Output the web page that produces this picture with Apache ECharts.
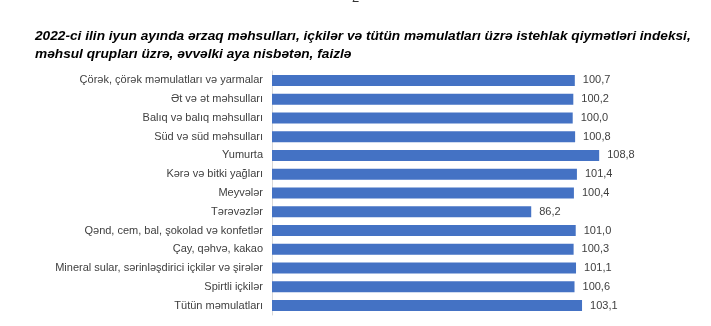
<!DOCTYPE html>
<html><head><meta charset="utf-8">
<script src="https://cdn.jsdelivr.net/npm/echarts@6/dist/echarts.min.js"></script>
<style>html,body{margin:0;padding:0;background:#fff}#c{width:711px;height:326px}</style>
</head><body><div id="c"></div>
<script>
const categories = ["Çörək, çörək məmulatları və yarmalar","Ət və ət məhsulları","Balıq və balıq məhsulları","Süd və süd məhsulları","Yumurta","Kərə və bitki yağları","Meyvələr","Tərəvəzlər","Qənd, cem, bal, şokolad və konfetlər","Çay, qəhvə, kakao","Mineral sular, sərinləşdirici içkilər və şirələr","Spirtli içkilər","Tütün məmulatları"];
const values = [100.7,100.2,100.0,100.8,108.8,101.4,100.4,86.2,101.0,100.3,101.1,100.6,103.1];
const titleLines = ["2022-ci ilin iyun ayında ərzaq məhsulları, içkilər və tütün məmulatları üzrə istehlak qiymətləri indeksi,","məhsul qrupları üzrə, əvvəlki aya nisbətən, faizlə"];
const chart = echarts.init(document.getElementById('c'));
chart.setOption({
  animation:false,
  graphic:[
    {type:'text',left:352,top:-8,style:{text:'2',font:'13px "Liberation Sans"',fill:'#333'}},
    {type:'text',left:35,top:27,style:{text:titleLines.join('\n'),font:'italic bold 13.7px "Liberation Sans"',fill:'#000',lineHeight:18}}
  ],
  grid:{left:272,top:71,width:421,height:244,containLabel:false},
  xAxis:{type:'value',min:0,max:140,show:false},
  yAxis:{type:'category',data:categories,inverse:true,
    axisLine:{show:true,lineStyle:{color:'#d9d9d9'}},axisTick:{show:false},
    axisLabel:{color:'#404040',fontSize:11,fontFamily:'Liberation Sans',margin:9}},
  series:[{type:'bar',data:values,barWidth:11,itemStyle:{color:'#4472C4'},
    label:{show:true,position:'right',distance:8,color:'#404040',fontSize:11,fontFamily:'Liberation Sans',
      formatter:p=>p.value.toFixed(1).replace('.',',')}}]
});
</script></body></html>
